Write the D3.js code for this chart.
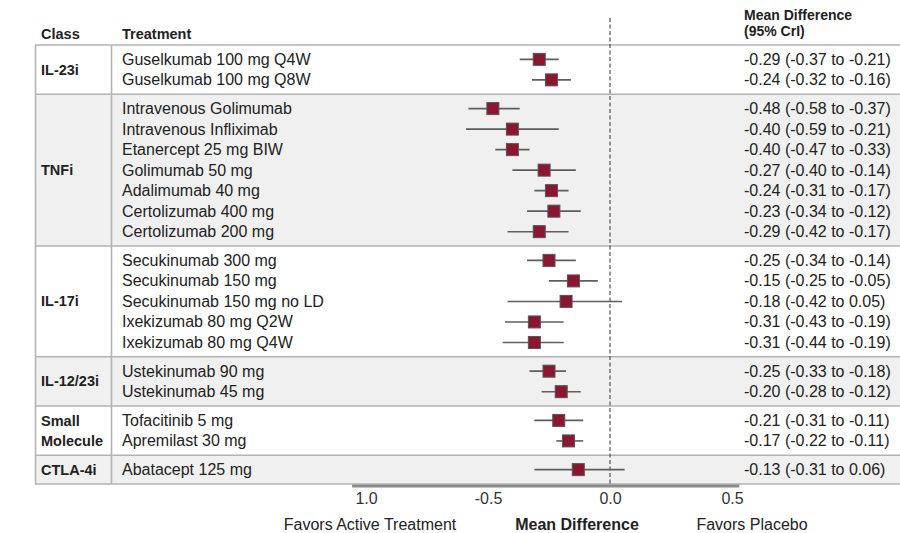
<!DOCTYPE html>
<html><head><meta charset="utf-8">
<script src="https://cdn.jsdelivr.net/npm/d3@7"></script>
<style>body{margin:0;background:#fff}svg{display:block;font-family:"Liberation Sans",Arial,sans-serif}</style>
</head><body><svg id="c" width="900" height="533"></svg>
<script>
const classes = ["IL-23i","TNFi","IL-17i","IL-12/23i","Small Molecule","CTLA-4i"];
const classLabels = [["IL-23i"],["TNFi"],["IL-17i"],["IL-12/23i"],["Small","Molecule"],["CTLA-4i"]];
const classOf = ["IL-23i","IL-23i","TNFi","TNFi","TNFi","TNFi","TNFi","TNFi","TNFi","IL-17i","IL-17i","IL-17i","IL-17i","IL-17i","IL-12/23i","IL-12/23i","Small Molecule","Small Molecule","CTLA-4i"];
const treatments = ["Guselkumab 100 mg Q4W","Guselkumab 100 mg Q8W","Intravenous Golimumab","Intravenous Infliximab","Etanercept 25 mg BIW","Golimumab 50 mg","Adalimumab 40 mg","Certolizumab 400 mg","Certolizumab 200 mg","Secukinumab 300 mg","Secukinumab 150 mg","Secukinumab 150 mg no LD","Ixekizumab 80 mg Q2W","Ixekizumab 80 mg Q4W","Ustekinumab 90 mg","Ustekinumab 45 mg","Tofacitinib 5 mg","Apremilast 30 mg","Abatacept 125 mg"];
const means = [-0.29,-0.24,-0.48,-0.40,-0.40,-0.27,-0.24,-0.23,-0.29,-0.25,-0.15,-0.18,-0.31,-0.31,-0.25,-0.20,-0.21,-0.17,-0.13];
const lows  = [-0.37,-0.32,-0.58,-0.59,-0.47,-0.40,-0.31,-0.34,-0.42,-0.34,-0.25,-0.42,-0.43,-0.44,-0.33,-0.28,-0.31,-0.22,-0.31];
const highs = [-0.21,-0.16,-0.37,-0.21,-0.33,-0.14,-0.17,-0.12,-0.17,-0.14,-0.05,0.05,-0.19,-0.19,-0.18,-0.12,-0.11,-0.11,0.06];
const tickValues = [-1,-0.5,0,0.5];
const tickLabels = ["1.0","-0.5","0.0","0.5"];

const svg = d3.select("#c");
const x = d3.scaleLinear().domain([-1, 0.5]).range([366, 732]);
const fmt = v => v.toFixed(2);

// vertical layout in row units with group gaps
const gap = 0.4;
const tableTop = 45;
let pos = [], groups = [];
let u = 0;
classes.forEach((c) => {
  const start = u;
  u += gap/2;
  treatments.forEach((t,i)=>{ if(classOf[i]===c){ pos[i]=u+0.5; u+=1; } });
  u += gap/2;
  groups.push({c, start, end:u});
});
const y = d3.scaleLinear().domain([0,u]).range([tableTop, 484]);

const TXT = "#222";
const g0 = svg.append("g");
groups.forEach((g,k)=>{
  g0.append("rect").attr("x",35).attr("y",y(g.start)).attr("width",865).attr("height",y(g.end)-y(g.start))
    .attr("fill", k%2===1 ? "#f0f0f0" : "#ffffff");
});
const bounds = [0].concat(groups.map(g=>g.end));
bounds.forEach(b=>{
  g0.append("line").attr("x1",35).attr("x2",900).attr("y1",y(b)).attr("y2",y(b))
    .attr("stroke","#b3b3b3").attr("stroke-width",1.6);
});
g0.append("line").attr("x1",35.5).attr("x2",35.5).attr("y1",y(0)).attr("y2",y(u)).attr("stroke","#b3b3b3").attr("stroke-width",1.6);
g0.append("line").attr("x1",111.5).attr("x2",111.5).attr("y1",y(0)).attr("y2",y(u)).attr("stroke","#b3b3b3").attr("stroke-width",1.6);

// headers
const hdr = (tx,xx,yy,fs)=>svg.append("text").attr("x",xx).attr("y",yy).text(tx).attr("font-weight","bold").attr("font-size",fs).attr("fill",TXT);
hdr("Class",41,39,14.5);
hdr("Treatment",122,39,14.5);
hdr("Mean Difference",744,19.5,14);
hdr("(95% CrI)",744,35.5,14);

// zero line
svg.append("line").attr("x1",x(0)).attr("x2",x(0)).attr("y1",18).attr("y2",486)
  .attr("stroke","#333").attr("stroke-width",1).attr("stroke-dasharray","4,2.5");

// class labels
groups.forEach((g,k)=>{
  const lines = classLabels[k];
  const cy = y((g.start+g.end)/2);
  lines.forEach((l,j)=>{
    svg.append("text").attr("x",41).attr("y", cy + 5 + (j-(lines.length-1)/2)*20)
      .text(l).attr("font-weight","bold").attr("font-size",14.5).attr("fill",TXT);
  });
});

// rows
const rows = svg.append("g").selectAll("g").data(treatments).join("g");
rows.append("text").attr("x",122).attr("y",(d,i)=>y(pos[i])+5.5).text(d=>d)
  .attr("font-size",16).attr("fill",TXT);
rows.append("text").attr("x",744).attr("y",(d,i)=>y(pos[i])+5.5)
  .text((d,i)=>`${fmt(means[i])} (${fmt(lows[i])} to ${fmt(highs[i])})`)
  .attr("font-size",16).attr("fill",TXT);
rows.append("line").attr("x1",(d,i)=>x(lows[i])).attr("x2",(d,i)=>x(highs[i]))
  .attr("y1",(d,i)=>y(pos[i])).attr("y2",(d,i)=>y(pos[i])).attr("stroke","#5e5e5e").attr("stroke-width",1.6);
rows.append("rect").attr("x",(d,i)=>x(means[i])-6).attr("y",(d,i)=>y(pos[i])-6)
  .attr("width",12).attr("height",12).attr("fill","#8c1530").attr("stroke","#555").attr("stroke-width",1);

// axis
const axisG = svg.append("g").attr("transform","translate(0,486)");
axisG.append("line").attr("x1",x(-1.057)).attr("x2",x(0.53)).attr("y1",0).attr("y2",0)
  .attr("stroke","#8a8a8a").attr("stroke-width",3);
const ax = d3.axisBottom(x).tickValues(tickValues).tickSize(0).tickPadding(7)
  .tickFormat((d,i)=>tickLabels[i]);
axisG.call(ax);
axisG.select(".domain").remove();
axisG.selectAll("text").attr("font-size",16).attr("fill","#333").attr("font-family","Liberation Sans, Arial, sans-serif");

svg.append("text").attr("x",370).attr("y",530).attr("text-anchor","middle").text("Favors Active Treatment").attr("font-size",16).attr("fill",TXT);
svg.append("text").attr("x",577).attr("y",530).attr("text-anchor","middle").text("Mean Difference").attr("font-size",16).attr("font-weight","bold").attr("fill",TXT);
svg.append("text").attr("x",752).attr("y",530).attr("text-anchor","middle").text("Favors Placebo").attr("font-size",16).attr("fill",TXT);
</script></body></html>
